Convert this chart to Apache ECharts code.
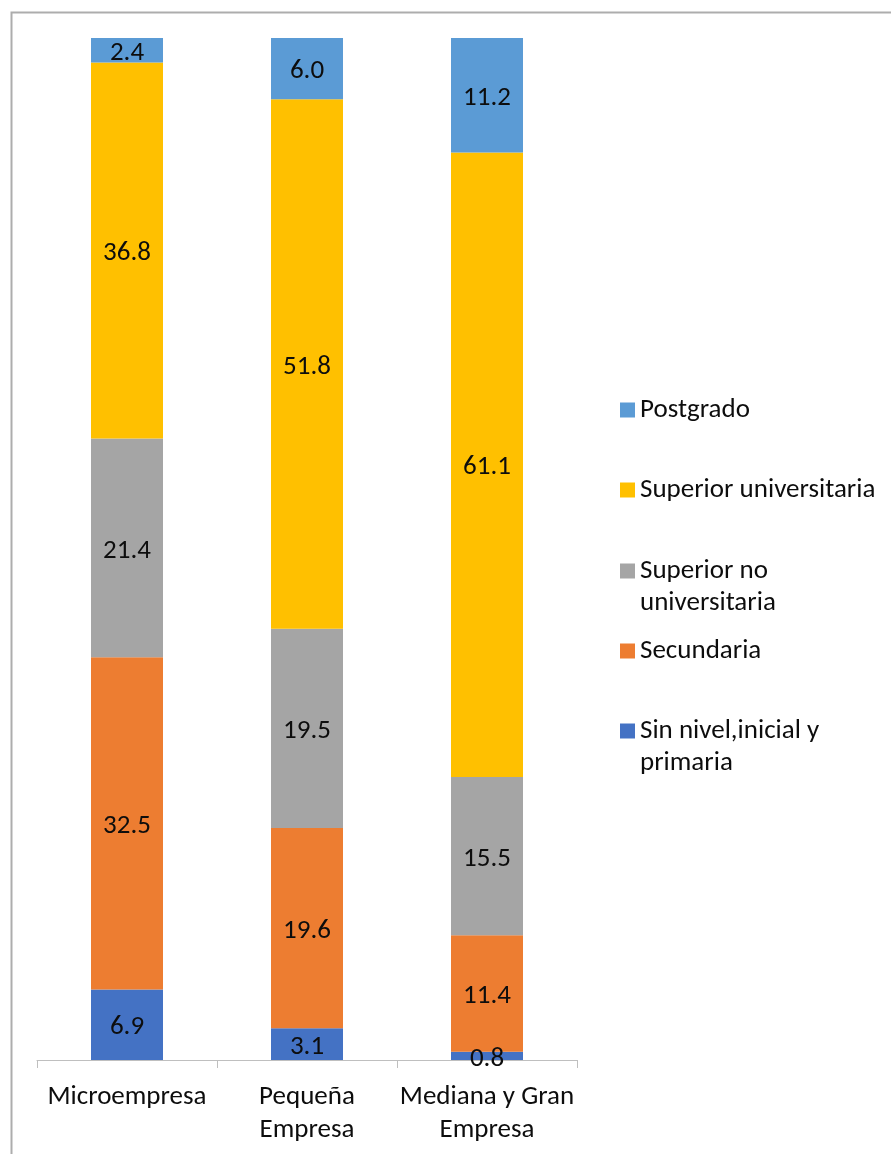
<!DOCTYPE html>
<html><head><meta charset="utf-8">
<script src="https://cdn.jsdelivr.net/npm/echarts@6/dist/echarts.min.js"></script>
<style>html,body{margin:0;padding:0;background:#fff}#c{width:891px;height:1154px}</style>
</head><body><div id="c"></div>
<script>
const categories = ['Microempresa', 'Pequeña\nEmpresa', 'Mediana y Gran\nEmpresa'];
const seriesNames = ['Sin nivel,inicial y primaria', 'Secundaria', 'Superior no universitaria', 'Superior universitaria', 'Postgrado'];
const sinNivel = [6.9, 3.1, 0.8];
const secundaria = [32.5, 19.6, 11.4];
const superiorNoUniv = [21.4, 19.5, 15.5];
const superiorUniv = [36.8, 51.8, 61.1];
const postgrado = [2.4, 6.0, 11.2];
const seriesColors = ['#4472C4', '#ED7D31', '#A5A5A5', '#FFC000', '#5B9BD5'];
const legendLabels = ['Sin nivel,inicial y\nprimaria', 'Secundaria', 'Superior no\nuniversitaria', 'Superior universitaria', 'Postgrado'];

const FONT = 'Carlito, Lato, sans-serif';
const FS = 27;
const LH = 32;
const seriesData = [sinNivel, secundaria, superiorNoUniv, superiorUniv, postgrado];

const chart = echarts.init(document.getElementById('c'), null, {renderer: 'canvas'});

// legend item centres (top to bottom: Postgrado ... Sin nivel)
const legendCenters = [731, 651, 571, 490, 410];
const legends = seriesNames.map((name, i) => {
  const twoLine = legendLabels[i].indexOf('\n') >= 0;
  return {
    show: true,
    data: [name],
    orient: 'vertical',
    left: 620,
    top: legendCenters[i] - (twoLine ? 1.5 * LH : LH / 2),
    padding: 0,
    itemWidth: 15,
    itemHeight: 15,
    icon: 'rect',
    itemGap: 0,
    selectedMode: false,
    // a leading empty line keeps the icon level with the first text line
    formatter: () => (twoLine ? '\n' : '') + legendLabels[i],
    textStyle: {
      fontFamily: FONT, fontSize: FS, color: '#0d0d0d', lineHeight: LH
    }
  };
});

chart.setOption({
  animation: false,
  backgroundColor: '#ffffff',
  graphic: [{
    type: 'rect', left: 9, top: 10,
    shape: {x: 0, y: 0, width: 1000, height: 1300},
    style: {fill: 'none', stroke: '#ADADAD', lineWidth: 2},
    silent: true
  }],
  grid: {left: 37, right: 314, top: 38, bottom: 94, containLabel: false},
  legend: legends,
  xAxis: {
    type: 'category',
    data: categories,
    axisLine: {show: true, lineStyle: {color: '#BFBFBF', width: 1}},
    axisTick: {show: true, length: 8, lineStyle: {color: '#BFBFBF'}},
    axisLabel: {fontFamily: FONT, fontSize: FS, color: '#0d0d0d', lineHeight: 33, margin: 21, interval: 0}
  },
  yAxis: {
    type: 'value', min: 0, max: 100, show: false,
    splitLine: {show: false}
  },
  series: seriesNames.map((name, i) => ({
    name: name,
    type: 'bar',
    stack: 'total',
    barWidth: 72,
    data: seriesData[i],
    itemStyle: {color: seriesColors[i]},
    label: {
      show: true, position: 'inside', offset: [0, 3],
      fontFamily: FONT, fontSize: FS, color: '#0d0d0d',
      formatter: p => Number(p.value).toFixed(1)
    }
  }))
});
</script></body></html>
